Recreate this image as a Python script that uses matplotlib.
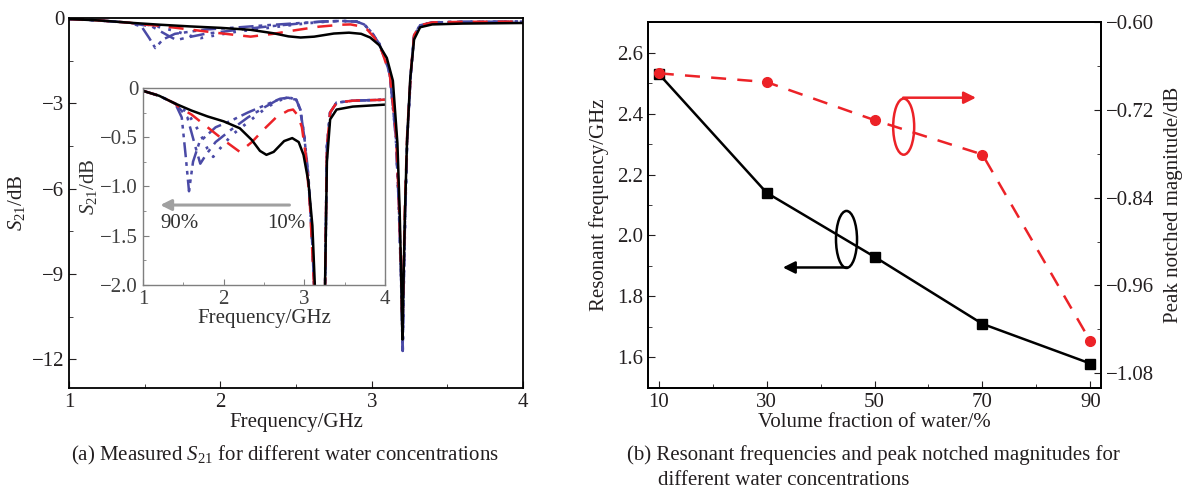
import numpy as np
import matplotlib
matplotlib.use('Agg')
import matplotlib.pyplot as plt
from matplotlib.patches import Ellipse
from matplotlib.ticker import MultipleLocator, FormatStrFormatter

plt.rcParams['font.family'] = ['Liberation Serif', 'DejaVu Serif']
plt.rcParams['mathtext.fontset'] = 'custom'
plt.rcParams['mathtext.rm'] = 'Liberation Serif'
plt.rcParams['mathtext.it'] = 'Liberation Serif:italic'
plt.rcParams['font.size'] = 15
plt.rcParams['axes.linewidth'] = 1.3

RED = '#ec2227'
BLUE = '#4a4aa6'
INK = '#231f20'
FS = 15

# ---- (a) measured S21 (GHz, dB) ----
# notch part shared by the blue curves
notch_f = [3.12, 3.16, 3.18, 3.195, 3.205, 3.212, 3.222, 3.235, 3.258, 3.28, 3.32, 3.4, 3.6, 4.0]
notch_blue = [-2.0, -4.2, -6.7, -9.3, -11.7, -9.3, -6.7, -4.2, -2.0, -0.6, -0.25, -0.15, -0.13, -0.12]

f10 = [1.0, 1.2, 1.4, 1.6, 1.8, 2.0, 2.2, 2.35, 2.45, 2.53, 2.62, 2.75, 2.85, 2.93, 2.99,
       3.05, 3.10, 3.14, 3.17, 3.185, 3.195, 3.203, 3.21, 3.22, 3.233, 3.255, 3.28, 3.32,
       3.4, 3.6, 3.8, 4.0]
s10 = [-0.03, -0.08, -0.16, -0.23, -0.29, -0.34, -0.41, -0.53, -0.64, -0.68, -0.65, -0.54,
       -0.51, -0.55, -0.68, -0.95, -1.4, -2.2, -4.4, -6.8, -9.1, -11.3, -9.3, -6.8, -4.4,
       -2.1, -0.75, -0.32, -0.22, -0.19, -0.18, -0.17]

f30 = [1.0, 1.2, 1.4, 1.45, 1.6, 1.8, 2.0, 2.2, 2.35, 2.5, 2.65, 2.8, 2.86, 2.92, 2.97,
       3.02, 3.07, 3.12, 3.16, 3.18, 3.195, 3.203, 3.21, 3.22, 3.235, 3.26, 3.28, 3.32,
       3.4, 3.6, 4.0]
s30 = [-0.03, -0.08, -0.16, -0.2, -0.27, -0.40, -0.53, -0.65, -0.55, -0.42, -0.30, -0.23,
       -0.22, -0.28, -0.40, -0.7, -1.2, -2.0, -4.0, -6.5, -9.0, -11.1, -9.0, -6.5, -4.0,
       -1.8, -0.6, -0.25, -0.15, -0.13, -0.12]

f50 = [1.0, 1.2, 1.4, 1.55, 1.7, 1.8, 1.87, 1.95, 2.1, 2.3, 2.5, 2.65, 2.75, 2.82, 2.9,
       2.95, 3.0, 3.05, 3.1] + notch_f
s50 = [-0.03, -0.08, -0.16, -0.25, -0.45, -0.62, -0.70, -0.62, -0.48, -0.35, -0.22, -0.14,
       -0.11, -0.10, -0.12, -0.22, -0.5, -0.9, -1.6] + notch_blue

f70 = [1.0, 1.2, 1.4, 1.55, 1.65, 1.71, 1.78, 1.9, 2.1, 2.3, 2.5, 2.65, 2.78, 2.9,
       2.95, 3.0, 3.05, 3.1] + notch_f
s70 = [-0.03, -0.08, -0.16, -0.3, -0.6, -0.77, -0.68, -0.55, -0.42, -0.30, -0.20, -0.13,
       -0.10, -0.12, -0.22, -0.5, -0.9, -1.6] + notch_blue

f90 = [1.0, 1.2, 1.4, 1.48, 1.53, 1.57, 1.62, 1.7, 1.9, 2.1, 2.3, 2.5, 2.7, 2.8, 2.9,
       2.95, 3.0, 3.05, 3.1] + notch_f
s90 = [-0.03, -0.08, -0.16, -0.3, -0.7, -1.05, -0.75, -0.55, -0.40, -0.33, -0.25, -0.18,
       -0.11, -0.10, -0.12, -0.22, -0.5, -0.9, -1.6] + notch_blue

curves = [
    (f10, s10, dict(color='black', ls='-', lw=1.8)),
    (f30, s30, dict(color=RED, ls=(0, (6, 4)), lw=1.8)),
    (f50, s50, dict(color=BLUE, ls=(0, (1, 3)), lw=2.0)),
    (f70, s70, dict(color=BLUE, ls=(0, (6, 2.5, 1.5, 2.5)), lw=1.8)),
    (f90, s90, dict(color=BLUE, ls=(0, (6, 2, 1.5, 2, 1.5, 2)), lw=1.8)),
]

# ---- (b) resonant frequency and peak notched magnitude ----
water = [10, 30, 50, 70, 90]
res_freq = [2.53, 2.14, 1.93, 1.71, 1.58]
peak_mag = [-0.670, -0.682, -0.734, -0.781, -1.036]


def minus(fmt):
    return lambda v, p: ('0' if v == 0 else (fmt % v).replace('-', '\u2212'))


fig = plt.figure(figsize=(11.86, 4.91), dpi=100)

ax = fig.add_axes([0.0582, 0.210, 0.3828, 0.753])
for f, s, st in curves[::-1]:
    ax.plot(f, s, **st)
ax.set_xlim(1, 4)
ax.set_ylim(-13, 0)
ax.xaxis.set_major_locator(MultipleLocator(1))
ax.xaxis.set_minor_locator(MultipleLocator(0.5))
ax.yaxis.set_major_locator(MultipleLocator(3))
ax.yaxis.set_minor_locator(MultipleLocator(1.5))
ax.tick_params(which='both', direction='in', colors=INK, labelsize=FS)
ax.tick_params(which='major', length=5)
ax.tick_params(which='minor', length=3)
ax.set_xlabel('Frequency/GHz', color=INK, labelpad=1)
ax.set_ylabel('$S_{21}$/dB', color=INK, labelpad=3)

ins = fig.add_axes([0.1206, 0.420, 0.2040, 0.401])
for f, s, st in curves[::-1]:
    ins.plot(f, s, **st)
ins.set_xlim(1, 4)
ins.set_ylim(-2, 0)
ins.xaxis.set_major_locator(MultipleLocator(1))
ins.xaxis.set_minor_locator(MultipleLocator(0.5))
ins.yaxis.set_major_locator(MultipleLocator(0.5))
ins.yaxis.set_minor_locator(MultipleLocator(0.25))
ins.yaxis.set_major_formatter(minus('%.1f'))
for sp in ins.spines.values():
    sp.set_color('#7f7f7f')
    sp.set_linewidth(1.0)
ins.tick_params(which='both', direction='in', colors='#7f7f7f', labelcolor='#404040', labelsize=FS)
ins.tick_params(which='major', length=4)
ins.tick_params(which='minor', length=2.5)
ins.set_xlabel('Frequency/GHz', color='#303030', labelpad=0)
ins.set_ylabel('$S_{21}$/dB', color='#303030', labelpad=1)
ins.annotate('', xy=(1.18, -1.19), xytext=(2.85, -1.19),
             arrowprops=dict(arrowstyle='-|>', color='#a0a0a0', lw=2.2, mutation_scale=16))
ins.text(1.45, -1.38, '90%', ha='center', va='center', fontsize=FS, color='#303030')
ins.text(2.78, -1.38, '10%', ha='center', va='center', fontsize=FS, color='#303030')

fig.text(0.0595, 0.073, '(a) Measured $S_{21}$ for different water concentrations',
         fontsize=FS, color=INK, ha='left', va='center')

# right panel
bx = fig.add_axes([0.5464, 0.210, 0.3820, 0.745])
bx.plot(water, res_freq, color='black', lw=1.8, marker='s', ms=7, zorder=3)
bx.set_xlim(8, 92)
bx.set_ylim(1.5, 2.7)
bx.set_xticks(water)
bx.xaxis.set_minor_locator(MultipleLocator(10))
bx.yaxis.set_major_locator(MultipleLocator(0.2))
bx.yaxis.set_minor_locator(MultipleLocator(0.1))
bx.yaxis.set_major_formatter(FormatStrFormatter('%.1f'))
bx.tick_params(which='both', direction='in', colors=INK, labelsize=FS)
bx.tick_params(which='major', length=5)
bx.tick_params(which='minor', length=3)
bx.set_xlabel('Volume fraction of water/%', color=INK, labelpad=1)
bx.set_ylabel('Resonant frequency/GHz', color=INK, labelpad=6)

bx2 = bx.twinx()
bx2.plot(water, peak_mag, color=RED, lw=1.8, ls=(0, (6, 4.5)), marker='o', ms=7, zorder=3)
bx2.set_ylim(-1.10, -0.60)
bx2.set_yticks([-0.60, -0.72, -0.84, -0.96, -1.08])
bx2.set_yticks([-0.66, -0.78, -0.90, -1.02], minor=True)
bx2.yaxis.set_major_formatter(minus('%.2f'))
bx2.tick_params(which='both', direction='in', colors=INK, labelsize=FS)
bx2.tick_params(which='major', length=5)
bx2.tick_params(which='minor', length=3)
bx2.set_ylabel('Peak notched magnitude/dB', color=INK, labelpad=7)

# axis indicators: ellipse with arrow
bx.add_patch(Ellipse((44.8, 1.987), 3.9, 0.187, fill=False, ec='black', lw=1.8, zorder=4))
bx.annotate('', xy=(33.0, 1.895), xytext=(44.9, 1.895),
            arrowprops=dict(arrowstyle='-|>', color='black', lw=1.8, mutation_scale=18,
                            shrinkA=0, shrinkB=0))
bx.add_patch(Ellipse((55.4, 2.357), 3.9, 0.184, fill=False, ec=RED, lw=1.8, zorder=4))
bx.annotate('', xy=(68.8, 2.452), xytext=(55.3, 2.452),
            arrowprops=dict(arrowstyle='-|>', color=RED, lw=1.8, mutation_scale=18,
                            shrinkA=0, shrinkB=0))

fig.text(0.529, 0.073, '(b) Resonant frequencies and peak notched magnitudes for',
         fontsize=FS, color=INK, ha='left', va='center')
fig.text(0.555, 0.022, 'different water concentrations',
         fontsize=FS, color=INK, ha='left', va='center')

fig.savefig('out.png', dpi=100, facecolor='white')
